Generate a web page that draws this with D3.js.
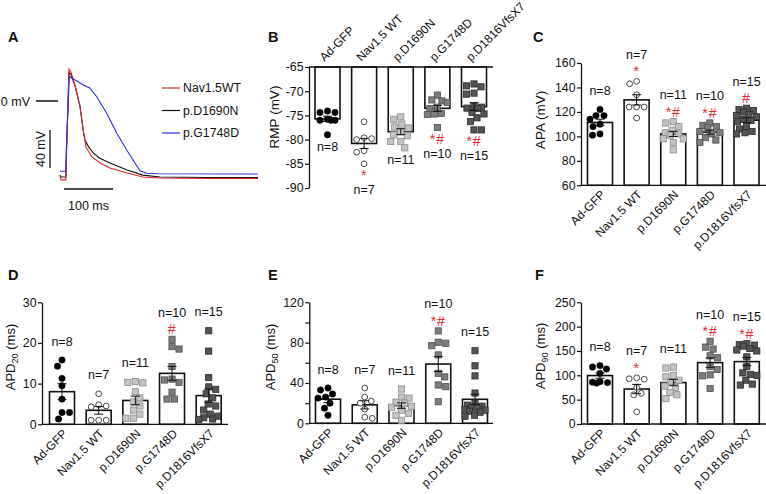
<!DOCTYPE html>
<html><head><meta charset="utf-8">
<script src="https://cdn.jsdelivr.net/npm/d3@7"></script>
<style>
body{margin:0;background:#fff}
svg{display:block}
text{font-family:"Liberation Sans",Arial,Helvetica,sans-serif;fill:#111}
</style>
</head><body>
<svg id="c" width="766" height="494"></svg>
<script>
// ---------------- DATA ----------------
const categories = ["Ad-GFP","Nav1.5 WT","p.D1690N","p.G1748D","p.D1816VfsX7"];
const nLabels = ["n=8","n=7","n=11","n=10","n=15"];

const rmpValues = [
  [-74.1,-74.4,-74.4,-75.8,-76.0,-76.0,-76.0,-79.0],
  [-76.3,-79.6,-79.8,-80.0,-82.3,-82.6,-85.0],
  [-75.3,-75.8,-76.8,-77.4,-77.6,-78.4,-79.0,-79.2,-80.4,-80.4,-81.7],
  [-70.8,-71.8,-72.0,-72.3,-73.3,-73.6,-74.6,-74.7,-74.8,-77.5],
  [-68.5,-68.9,-69.1,-70.4,-70.6,-73.0,-73.3,-73.5,-73.6,-74.4,-74.7,-75.5,-76.3,-78.0,-78.0]
];
const apaValues = [
  [122,117,117,114,110,108,101,102],
  [145,143,134,124,124,124,115],
  [112,111,108,105,103,102,101,98,98,95,89],
  [111,109,108,107,104,103,102,99,97,95],
  [123,122,121,120,118,117,116,114,113,112,108,106,104,103,102]
];
const apd20Values = [
  [15.8,14.3,11.3,9.5,6.2,2.9,2.9,1.3],
  [7.5,4.8,4.5,4.3,1.0,1.0,1.0],
  [10.3,10.2,10.5,8.0,6.5,5.5,4.5,3.5,2.5,1.5,1.5],
  [20.9,19.1,18.5,14.2,11.1,10.3,10.9,7.9,6.2,6.2],
  [23.0,18.0,11.5,9.2,8.6,7.5,6.5,5.0,4.5,3.5,2.5,2.0,1.6,1.3,1.2]
];
const apd50Values = [
  [35,33,29,26,25,20,15,8],
  [35,26,22,20,14,6,5],
  [34,26,25,21,20,17,16,13,10,8,3],
  [91.6,80.4,79.4,77,67.8,49.6,46,38,36.3,21.4],
  [72,57,47,30,20,18,17,16,15,14,13,12,11,8,7]
];
const apd90Values = [
  [120,117,113,104,87,85,84,86],
  [95,93,92,75,63,60,25],
  [117,115,100,97,90,87,78,75,65,60,52],
  [170,158,154,140,136,118,112,101,99,73],
  [165,163,162,160,155,152,150,138,118,105,102,100,90,82,80]
];

const rmpSig   = ["","*","","*#","*#"];
const apaSig   = ["","*","*#","*#","#"];
const apd20Sig = ["","","","#",""];
const apd50Sig = ["","","","*#",""];
const apd90Sig = ["","*","","*#","*#"];

const rmpTicks   = [-90,-85,-80,-75,-70,-65];
const apaTicks   = [60,80,100,120,140,160];
const apd20Ticks = [0,10,20,30];
const apd50Ticks = [0,20,40,60,80,100,120];
const apd50Labelled = [0,40,80,120];
const apd90Ticks = [0,50,100,150,200,250];

// action potential traces: [time (ms), membrane potential (mV)]
const traceNames = ["Nav1.5WT","p.D1690N","p.G1748D"];
const wtTrace = [[0,-79],[2,-83],[12,-83],[13,-60],[18.4,33.7],[22.4,30.5],[30.6,16.8],[40.8,-6.3],[49,-35.8],[53,-48.4],[65,-58.9],[82,-65.3],[102,-70.5],[137,-75.8],[169,-80],[204,-81],[300,-81.5],[404,-81.5]];
const d1690nTrace = [[0,-78],[2,-80],[12,-80],[13,-55],[18.4,30],[22.4,28],[30.6,16],[40.8,-5],[47,-30],[51,-41],[58,-48],[67,-54],[80,-60],[102,-65.3],[137,-72.6],[169,-78],[204,-80],[300,-80.5],[404,-80.5]];
const g1748dTrace = [[0,-74],[12,-74],[13,-50],[19,26.3],[23.9,23.9],[34.7,21],[47.6,16.8],[61.2,13.4],[74.9,4.5],[95.3,-12.9],[115.7,-33.7],[136.1,-51.6],[153,-65.3],[163.3,-73.4],[177,-76.1],[200,-76.5],[404,-76.8]];

// ---------------- DRAW ----------------
const svg = d3.select("#c");
const RED = "#e3262b";

[["A",8,42],["B",268,42],["C",533,42],["D",8,280],["E",268,280],["F",535,280]].forEach(([t,x,y])=>{
  svg.append("text").attr("x",x).attr("y",y).attr("font-size",14.5).attr("font-weight","bold").text(t);
});

// ---- Panel A ----
(function(){
  const xT = d3.scaleLinear().domain([0,400]).range([60,256]);
  const yV = d3.scaleLinear().domain([0,40]).range([101,63]);
  const g = svg.append("g");
  const line = d3.line().x(d=>xT(d[0])).y(d=>yV(d[1]));
  const traces = [d1690nTrace, wtTrace, g1748dTrace];
  const cols = ["#111", RED, "#2b2bef"];
  traces.forEach((t,i)=>{
    g.append("path").attr("d",line(t)).attr("fill","none").attr("stroke",cols[i]).attr("stroke-width",1.1);
  });
  g.append("line").attr("x1",36).attr("x2",58).attr("y1",yV(0)).attr("y2",yV(0)).attr("stroke","#111").attr("stroke-width",1.5);
  g.append("text").attr("x",30).attr("y",yV(0)+4.5).attr("text-anchor","end").attr("font-size",12.5).text("0 mV");
  const sbTop = 130, sbLen = yV(0)-yV(40);
  g.append("line").attr("x1",50).attr("x2",50).attr("y1",sbTop).attr("y2",sbTop+sbLen).attr("stroke","#111").attr("stroke-width",1.3);
  g.append("text").attr("transform",`translate(45,${sbTop+sbLen/2}) rotate(-90)`).attr("text-anchor","middle").attr("font-size",12.5).text("40 mV");
  const hx = 64, hLen = xT(100)-xT(0);
  g.append("line").attr("x1",hx).attr("x2",hx+hLen).attr("y1",189).attr("y2",189).attr("stroke","#111").attr("stroke-width",1.3);
  g.append("text").attr("x",hx+hLen/2).attr("y",210).attr("text-anchor","middle").attr("font-size",12.5).text("100 ms");
  const legCols = [RED,"#111","#2b2bef"];
  traceNames.forEach((n,i)=>{
    const y = 88 + i*22.5;
    g.append("line").attr("x1",162).attr("x2",180).attr("y1",y).attr("y2",y).attr("stroke",legCols[i]).attr("stroke-width",1.2);
    g.append("text").attr("x",183).attr("y",y+4.3).attr("font-size",12.3).text(n);
  });
})();

// ---- Scatter bar panels ----
const markers = [
  {shape:"circle", fill:"#000", stroke:"#000"},
  {shape:"circle", fill:"#fff", stroke:"#333"},
  {shape:"square", fill:"#c4c4c4", stroke:"#8c8c8c"},
  {shape:"square", fill:"#7d7d7d", stroke:"#505050"},
  {shape:"square", fill:"#545454", stroke:"#2c2c2c"}
];

function swarm(vals, y, d, maxOff){
  const order = vals.map((v,i)=>i).sort((a,b)=>y(vals[a])-y(vals[b]));
  const placed = [], off = new Array(vals.length);
  const cands = [0];
  for (let k=0.5;k<=maxOff;k+=0.5){cands.push(k);cands.push(-k);}
  order.forEach((i,j)=>{
    const yy = y(vals[i]);
    let chosen=null, bestScore=-1, bestO=0;
    const sgn = (j%2===0)?1:-1;
    for (const c0 of cands){
      const c = c0*sgn;
      let minD = Infinity;
      for (const p of placed){ const dd=Math.hypot(p[0]-c,p[1]-yy); if(dd<minD)minD=dd; }
      if (minD>=d){chosen=c;break;}
      if (minD>bestScore){bestScore=minD;bestO=c;}
    }
    if (chosen===null) chosen=bestO;
    off[i]=chosen; placed.push([chosen,yy]);
  });
  return off;
}

const panels = [
  {vals:rmpValues, sig:rmpSig, ticks:rmpTicks, labelled:null, domain:[-90,-65], yr:[188,67], cx:[327.5,474], ax:309, xEnd:493, hang:true,
   title:["RMP (mV)"], tx:279, ty:117, tfs:13.5},
  {vals:apaValues, sig:apaSig, ticks:apaTicks, labelled:null, domain:[60,160], yr:[185.3,63], cx:[600,746.5], ax:581, xEnd:766, hang:false,
   title:["APA (mV)"], tx:545, ty:120, tfs:13.5},
  {vals:apd20Values, sig:apd20Sig, ticks:apd20Ticks, labelled:null, domain:[0,30], yr:[424.3,302.3], cx:[62,208.7], ax:42, xEnd:228, hang:false,
   title:["APD","20"," (ms)"], tx:15, ty:357, tfs:13},
  {vals:apd50Values, sig:apd50Sig, ticks:apd50Ticks, labelled:apd50Labelled, domain:[0,120], yr:[423.3,302.3], cx:[328,475], ax:309.3, xEnd:493, hang:false,
   title:["APD","50"," (ms)"], tx:275, ty:357, tfs:13},
  {vals:apd90Values, sig:apd90Sig, ticks:apd90Ticks, labelled:null, domain:[0,250], yr:[424,302.3], cx:[600,746.8], ax:581, xEnd:766, hang:false,
   title:["APD","90"," (ms)"], tx:545, ty:356, tfs:13}
];

panels.forEach(P=>{
  const g = svg.append("g");
  const y = d3.scaleLinear().domain(P.domain).range(P.yr);
  const x = d3.scalePoint().domain(categories).range(P.cx);
  const bw = 25;
  const base = P.hang ? P.domain[1] : P.domain[0];
  const stats = P.vals.map(v=>({m:d3.mean(v), s:d3.deviation(v)/Math.sqrt(v.length)}));

  categories.forEach((c,i)=>{
    const y0 = y(base), y1 = y(stats[i].m);
    g.append("rect").attr("x",x(c)-bw/2).attr("width",bw)
      .attr("y",Math.min(y0,y1)).attr("height",Math.abs(y1-y0))
      .attr("fill","#fff").attr("stroke","#111").attr("stroke-width",1.6);
  });

  const axis = d3.axisLeft(y).tickValues(P.ticks).tickSize(4).tickSizeOuter(0).tickPadding(1.5)
    .tickFormat(d=> (P.labelled && !P.labelled.includes(d)) ? "" : String(d));
  const ag = g.append("g").attr("transform",`translate(${P.ax},0)`).call(axis);
  ag.select(".domain").attr("stroke","#111").attr("stroke-width",1.3);
  ag.selectAll(".tick line").attr("stroke","#111").attr("stroke-width",1.2);
  ag.selectAll(".tick text").attr("font-size",12.3).attr("fill","#111").style("font-family",'"Liberation Sans",Arial,sans-serif');

  g.append("line").attr("x1",P.ax).attr("x2",P.xEnd).attr("y1",y(base)).attr("y2",y(base)).attr("stroke","#111").attr("stroke-width",1.3);

  categories.forEach((c,i)=>{
    const mk = markers[i];
    const off = swarm(P.vals[i], y, 7.3, 10);
    P.vals[i].forEach((v,j)=>{
      const px = x(c)+off[j], py = y(v);
      if (mk.shape==="circle"){
        g.append("circle").attr("cx",px).attr("cy",py).attr("r",mk.fill==="#fff"?2.9:3.2)
          .attr("fill",mk.fill).attr("stroke",mk.stroke).attr("stroke-width",mk.fill==="#fff"?0.9:0.5);
      } else {
        g.append("rect").attr("x",px-3.1).attr("y",py-3.1).attr("width",6.2).attr("height",6.2)
          .attr("fill",mk.fill).attr("stroke",mk.stroke).attr("stroke-width",0.8);
      }
    });
  });

  categories.forEach((c,i)=>{
    const cx = x(c), m = stats[i].m, s = stats[i].s;
    const ya = y(m+s), yb = y(m-s);
    g.append("line").attr("x1",cx).attr("x2",cx).attr("y1",ya).attr("y2",yb).attr("stroke","#111").attr("stroke-width",1);
    [ya,yb].forEach(yy=>g.append("line").attr("x1",cx-4.5).attr("x2",cx+4.5).attr("y1",yy).attr("y2",yy).attr("stroke","#111").attr("stroke-width",1));
  });

  categories.forEach((c,i)=>{
    const cx = x(c), v = P.vals[i], s = stats[i];
    if (P.hang){
      const bottom = Math.max(y(d3.min(v)), y(s.m - s.s));
      let ny;
      if (P.sig[i]){
        const sy = bottom + 10;
        g.append("text").attr("x",cx).attr("y",sy+6).attr("text-anchor","middle").attr("font-size",14).style("fill",RED).attr("letter-spacing",1).text(P.sig[i]);
        ny = sy + 16;
      } else ny = bottom + 12;
      g.append("text").attr("x",cx).attr("y",ny+4.5).attr("text-anchor","middle").attr("font-size",12.5).text(nLabels[i]);
    } else {
      const top = Math.min(y(d3.max(v)), y(s.m + s.s));
      let ny;
      if (P.sig[i]){
        const sy = top - 11;
        g.append("text").attr("x",cx).attr("y",sy+6).attr("text-anchor","middle").attr("font-size",14).style("fill",RED).attr("letter-spacing",1).text(P.sig[i]);
        ny = sy - 16;
      } else ny = top - 19;
      g.append("text").attr("x",cx).attr("y",ny+4.5).attr("text-anchor","middle").attr("font-size",12.5).text(nLabels[i]);
    }
  });

  categories.forEach(c=>{
    const cx = x(c);
    if (P.hang){
      g.append("text").attr("transform",`translate(${cx-3},62) rotate(-45)`).attr("text-anchor","start").attr("font-size",12).text(c);
    } else {
      g.append("text").attr("transform",`translate(${cx+6},${y(base)+10}) rotate(-45)`).attr("text-anchor","end").attr("font-size",12).text(c);
    }
  });

  const t = g.append("text").attr("transform",`translate(${P.tx},${P.ty}) rotate(-90)`).attr("text-anchor","middle").attr("font-size",P.tfs);
  if (P.title.length===1) t.text(P.title[0]);
  else {
    t.append("tspan").text(P.title[0]);
    t.append("tspan").attr("font-size",P.tfs*0.7).attr("dy",3).text(P.title[1]);
    t.append("tspan").attr("dy",-3).text(P.title[2]);
  }
});
</script>
</body></html>
